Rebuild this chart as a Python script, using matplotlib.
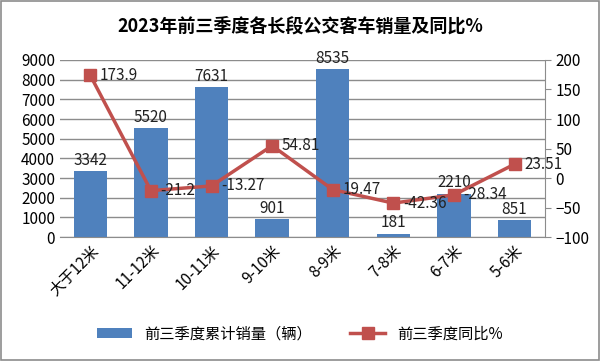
import matplotlib.pyplot as plt
import numpy as np

plt.rcParams['font.family'] = ['Noto Sans CJK SC', 'DejaVu Sans']

categories = ["大于12米", "11-12米", "10-11米", "9-10米", "8-9米", "7-8米", "6-7米", "5-6米"]
sales = [3342, 5520, 7631, 901, 8535, 181, 2210, 851]
yoy = [173.9, -21.2, -13.27, 54.81, -19.47, -42.36, -28.34, 23.51]
yoy_labels = ["173.9", "-21.2", "-13.27", "54.81", "19.47", "-42.36", "-28.34", "23.51"]

fig = plt.figure(figsize=(6, 3.61), dpi=100)
fig.patches.append(plt.Rectangle((0.002, 0.002), 0.996, 0.996, transform=fig.transFigure,
                                 fill=False, edgecolor="#8c8c8c", linewidth=1.2))
ax = fig.add_axes([0.1, 0.343, 0.808, 0.491])
ax2 = ax.twinx()

x = np.arange(len(categories))
bars = ax.bar(x, sales, width=0.55, color="#4F81BD", label="前三季度累计销量（辆）", zorder=2)
for xi, v in zip(x, sales):
    ax.text(xi, v + 120, str(v), ha="center", va="bottom", fontsize=11, color="#222222")

ax.set_ylim(0, 9000)
ax.set_yticks(range(0, 9001, 1000))
ax.set_xlim(-0.5, len(categories) - 0.5)
ax.grid(axis="y", color="#8c8c8c", linewidth=1, zorder=0)
ax.set_axisbelow(True)
ax.set_xticks(x)
ax.set_xticklabels(categories, rotation=45, ha="right", rotation_mode="anchor", fontsize=11)
ax.tick_params(axis="y", length=0, labelsize=11)
ax.tick_params(axis="x", length=0)
for s in ["top", "left", "right"]:
    ax.spines[s].set_visible(False)
ax.spines["bottom"].set_color("#8c8c8c")

line, = ax2.plot(x, yoy, color="#C0504D", linewidth=2.5, marker="s", markersize=9,
                 label="前三季度同比%", zorder=3)
for xi, v, t in zip(x, yoy, yoy_labels):
    ax2.text(xi + 0.16, v, t, ha="left", va="center", fontsize=11, color="#222222")
ax2.set_ylim(-100, 200)
ax2.set_yticks(range(-100, 201, 50))
ax2.tick_params(axis="y", direction="out", length=4, color="#8c8c8c", labelsize=11)
for s in ["top", "left", "bottom"]:
    ax2.spines[s].set_visible(False)
ax2.spines["right"].set_color("#8c8c8c")
ax.set_zorder(1)
ax2.set_zorder(2)

fig.suptitle("2023年前三季度各长段公交客车销量及同比%", fontsize=13, fontweight="bold", y=0.955)
fig.legend([bars, line], ["前三季度累计销量（辆）", "前三季度同比%"], loc="center",
           bbox_to_anchor=(0.5, 0.075), ncol=2, frameon=False, fontsize=11,
           handlelength=2.3, columnspacing=2.5)

fig.savefig("out.png")
